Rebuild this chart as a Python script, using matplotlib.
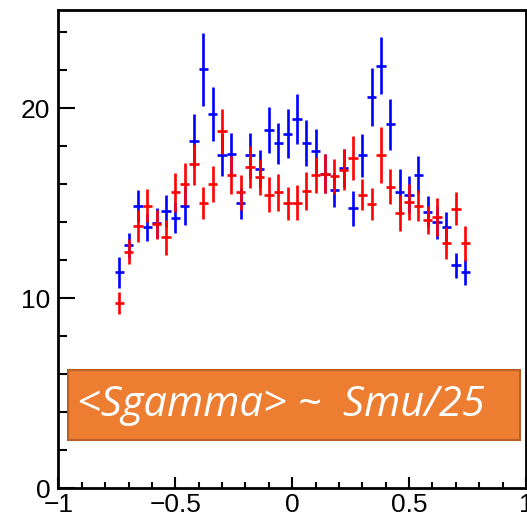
import numpy as np
import matplotlib.pyplot as plt
from matplotlib.ticker import MultipleLocator, FuncFormatter

# bin centres (width 0.04)
x_centers = [-0.74, -0.70, -0.66, -0.62, -0.58, -0.54, -0.50, -0.46, -0.42, -0.38,
             -0.34, -0.30, -0.26, -0.22, -0.18, -0.14, -0.10, -0.06, -0.02, 0.02,
             0.06, 0.10, 0.14, 0.18, 0.22, 0.26, 0.30, 0.34, 0.38, 0.42,
             0.46, 0.50, 0.54, 0.58, 0.62, 0.66, 0.70, 0.74]

blue_vals = [11.38, 12.79, 14.86, 13.74, 13.98, 14.61, 14.26, 14.86, 18.30, 22.05,
             19.70, 17.53, 17.60, 15.00, 17.53, 16.79, 18.86, 18.17, 18.67, 19.44,
             18.17, 17.74, 16.56, 15.72, 16.88, 14.75, 17.53, 20.61, 22.25, 19.16,
             15.61, 15.46, 16.51, 14.56, 14.00, 13.75, 11.75, 11.37]
blue_errs = [0.82, 0.66, 0.85, 0.73, 0.79, 0.86, 0.81, 1.00, 1.39, 1.90,
             1.42, 1.10, 1.11, 0.80, 1.17, 1.00, 1.19, 1.08, 1.30, 1.30,
             1.20, 1.20, 1.03, 0.90, 1.00, 0.92, 1.14, 1.53, 1.51, 1.36,
             1.20, 0.96, 0.98, 0.81, 0.85, 0.79, 0.66, 0.68]

red_vals = [9.75, 12.47, 13.81, 14.89, 13.90, 13.21, 15.58, 16.04, 17.05, 15.02,
            16.04, 18.79, 16.51, 15.58, 16.93, 16.39, 15.47, 15.58, 15.00, 15.03,
            15.65, 16.49, 16.56, 16.42, 16.77, 17.40, 15.46, 14.96, 17.54, 15.89,
            14.49, 15.07, 14.89, 14.12, 14.28, 12.91, 14.72, 12.91]
red_errs = [0.59, 0.68, 0.83, 0.86, 0.76, 0.90, 1.04, 1.10, 1.08, 0.82,
            0.94, 1.18, 1.00, 0.90, 1.11, 0.96, 0.90, 0.96, 0.86, 0.92,
            0.98, 0.95, 1.03, 0.90, 1.07, 1.15, 0.82, 0.83, 1.49, 0.90,
            0.94, 0.93, 0.81, 0.72, 0.99, 0.84, 0.86, 0.92]

x_ticks = [-1, -0.5, 0, 0.5, 1]
y_ticks = [0, 10, 20]
label_text = "<Sgamma> ~  Smu/25"

fig = plt.figure(figsize=(5.27, 5.20), dpi=100)
ax = fig.add_axes([0.111, 0.0606, 0.887, 0.9202])

ax.errorbar(x_centers, blue_vals, xerr=0.02, yerr=blue_errs, fmt='none',
            ecolor='#0000ff', elinewidth=1.9, capsize=0, zorder=2)
ax.errorbar(x_centers, red_vals, xerr=0.02, yerr=red_errs, fmt='none',
            ecolor='#ff0000', elinewidth=1.9, capsize=0, zorder=3)

ax.set_xlim(-1, 1)
ax.set_ylim(0, 25.18)

ax.set_xticks(x_ticks)
ax.set_yticks(y_ticks)
ax.xaxis.set_minor_locator(MultipleLocator(0.1))
ax.yaxis.set_minor_locator(MultipleLocator(2))

def fmt(v, pos):
    s = ('%g' % v)
    return s.replace('-', '\u2212')

ax.xaxis.set_major_formatter(FuncFormatter(fmt))
ax.yaxis.set_major_formatter(FuncFormatter(fmt))

for sp in ax.spines.values():
    sp.set_linewidth(2.0)

ax.tick_params(axis='both', which='both', direction='in', width=1.5,
               labelsize=19, top=False, right=False)
ax.tick_params(axis='x', which='major', length=8, pad=3)
ax.tick_params(axis='x', which='minor', length=4)
ax.tick_params(axis='y', which='major', length=12.5, pad=6)
ax.tick_params(axis='y', which='minor', length=6.5)
for lab in ax.get_xticklabels() + ax.get_yticklabels():
    lab.set_family(['Liberation Sans', 'DejaVu Sans'])

# orange label box
box = plt.Rectangle((67.5 / 527, (520 - 439.5) / 520), (519.5 - 67.5) / 527, 69.5 / 520,
                    transform=fig.transFigure, facecolor='#ed7d31',
                    edgecolor='#b9602a', linewidth=1.5, zorder=5)
fig.patches.append(box)
fig.text(77 / 527, (520 - 405) / 520, label_text, color='white', fontsize=30,
         style='italic', family=['Open Sans', 'DejaVu Sans'], va='center', ha='left',
         zorder=6)

fig.savefig('out.png', dpi=100)
